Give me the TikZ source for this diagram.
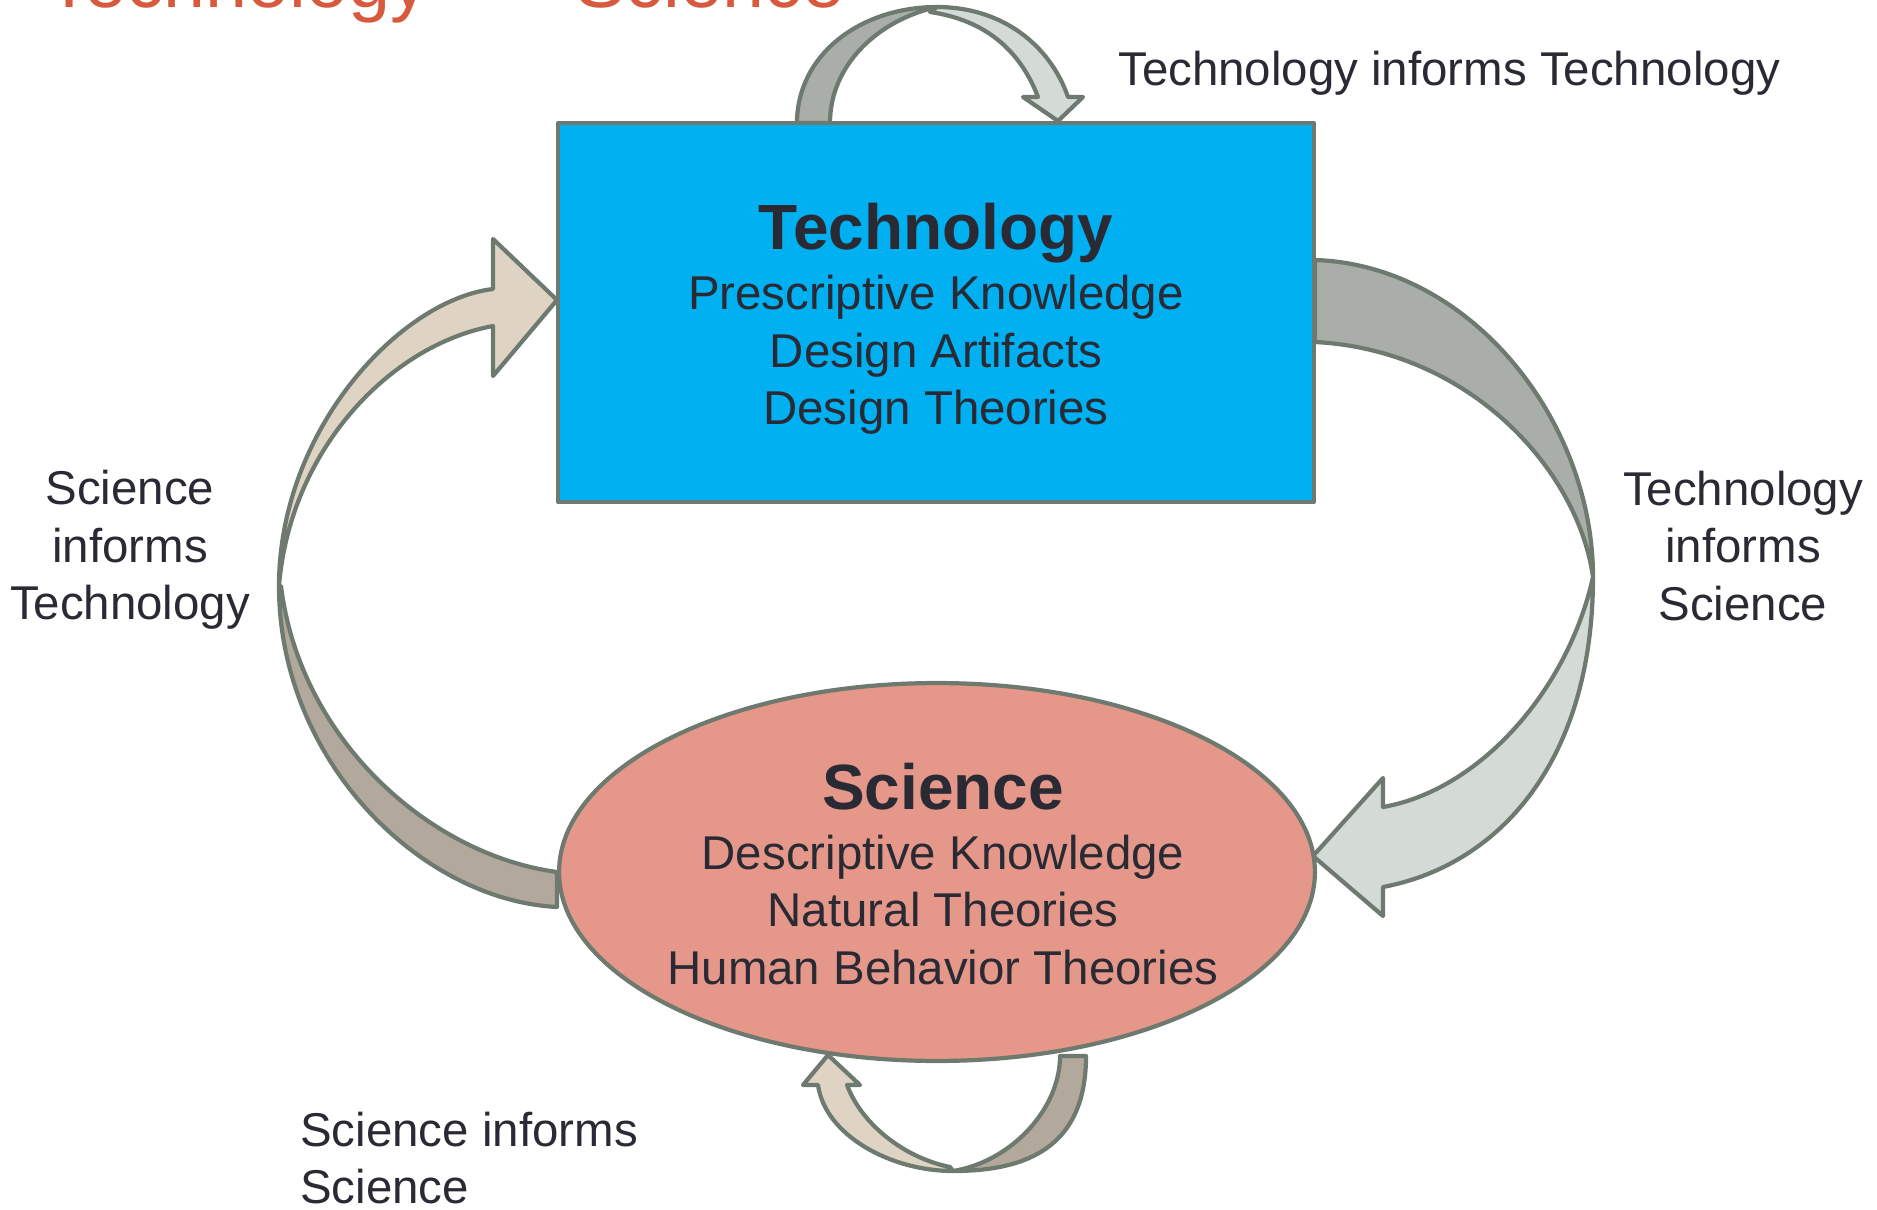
\documentclass[tikz,border=0pt]{standalone}
\usepackage{fontspec}
\setmainfont{Liberation Sans}
\usetikzlibrary{shapes.geometric}

\definecolor{techblue}{HTML}{00B0F0}
\definecolor{scipink}{HTML}{E5978A}
\definecolor{edgegray}{HTML}{6E7A70}
\definecolor{greydark}{HTML}{A9AEA9}
\definecolor{greylight}{HTML}{D4DBD6}
\definecolor{beigelight}{HTML}{DFD4C4}
\definecolor{beigedark}{HTML}{B2A99C}
\definecolor{inkdark}{HTML}{2A2A34}
\definecolor{titlered}{HTML}{D85A3E}

\newcommand{\bodysize}{\fontsize{27}{32.7}\selectfont}
\newcommand{\headsize}{\fontsize{36.4}{40}\selectfont\bfseries}

\tikzset{
  bandline/.style={draw=edgegray, line width=2.4pt, line join=round},
  techbox/.style={bandline, fill=techblue, rectangle, minimum width=15.12cm, minimum height=7.58cm, inner sep=0pt},
  scibox/.style={bandline, fill=scipink, ellipse, minimum width=15.12cm, minimum height=7.56cm, inner sep=0pt},
  lbl/.style={text=inkdark, font=\bodysize, align=center, inner sep=0pt},
  titletext/.style={text=titlered, font=\fontsize{43}{50}\selectfont, inner sep=0pt, anchor=base west}
}

\begin{document}
\begin{tikzpicture}[x=0.02cm, y=-0.02cm]
\clip (0,0) rectangle (1877,1210);

% title, cut by the top edge
\node[titletext] (titletech) at (46,8) {Technology};
\node[titletext] (titlesci) at (575,8) {Science};

% Technology informs Technology
\draw[bandline, fill=greylight] (937,7) .. controls (1002,7) and (1050,45) .. (1068,97)
  -- (1083,97) -- (1058,121) -- (1023,97) -- (1038,97)
  .. controls (1020,50) and (985,20) .. (930,12) -- cycle;
\draw[bandline, fill=greydark] (797,123) .. controls (797,55) and (860,7) .. (937,7)
  .. controls (878,20) and (830,65) .. (830,123) -- cycle;

% Technology informs Science
\draw[bandline, fill=greydark] (1315,260) .. controls (1470,265) and (1593,420) .. (1593,577)
  .. controls (1578,470) and (1470,350) .. (1315,342) -- cycle;
\draw[bandline, fill=greylight] (1593,577) .. controls (1568,690) and (1480,790) .. (1383,807)
  -- (1383,778) -- (1313,856) -- (1383,916) -- (1383,887)
  .. controls (1500,865) and (1593,760) .. (1593,577) -- cycle;

% Science informs Technology
\draw[bandline, fill=beigedark] (279,586) .. controls (279,760) and (420,900) .. (557,907)
  -- (557,872) .. controls (430,855) and (300,740) .. (281,586) -- cycle;
\draw[bandline, fill=beigelight] (493,326) -- (493,376) -- (557,300) -- (493,239) -- (493,289)
  .. controls (400,300) and (279,430) .. (279,586)
  .. controls (290,450) and (390,345) .. (493,326) -- cycle;

% Science informs Science
\draw[bandline, fill=beigedark] (1086,1056) .. controls (1086,1145) and (1030,1171) .. (953,1171)
  .. controls (1010,1162) and (1060,1110) .. (1060,1056) -- cycle;
\draw[bandline, fill=beigelight] (953,1171) .. controls (890,1171) and (825,1135) .. (818,1085)
  -- (803,1085) -- (828,1055) -- (860,1085) -- (847,1085)
  .. controls (862,1125) and (905,1158) .. (950,1167) -- cycle;

% the two boxes
\node[techbox] (tech) at (936,312.5) {};
\node[lbl] (techtext) at (936,319) {{\headsize Technology}\\[1.4pt] Prescriptive Knowledge\\ Design Artifacts\\ Design Theories};
\node[scibox] (sci) at (937,872) {};
\node[lbl] (scitext) at (943,874) {{\headsize Science}\\[1.4pt] Descriptive Knowledge\\ Natural Theories\\ Human Behavior Theories};

% labels
\node[lbl, anchor=base west] (techtech) at (1118,85) {Technology informs Technology};
\node[lbl] (techsci) at (1743,546) {Technology\\ informs\\ Science};
\node[lbl] (scitech) at (130,550) {Science\\ informs\\ Technology};
\node[lbl, anchor=west, align=left] (scisci) at (300,1158) {Science informs\\ Science};
\end{tikzpicture}
\end{document}
